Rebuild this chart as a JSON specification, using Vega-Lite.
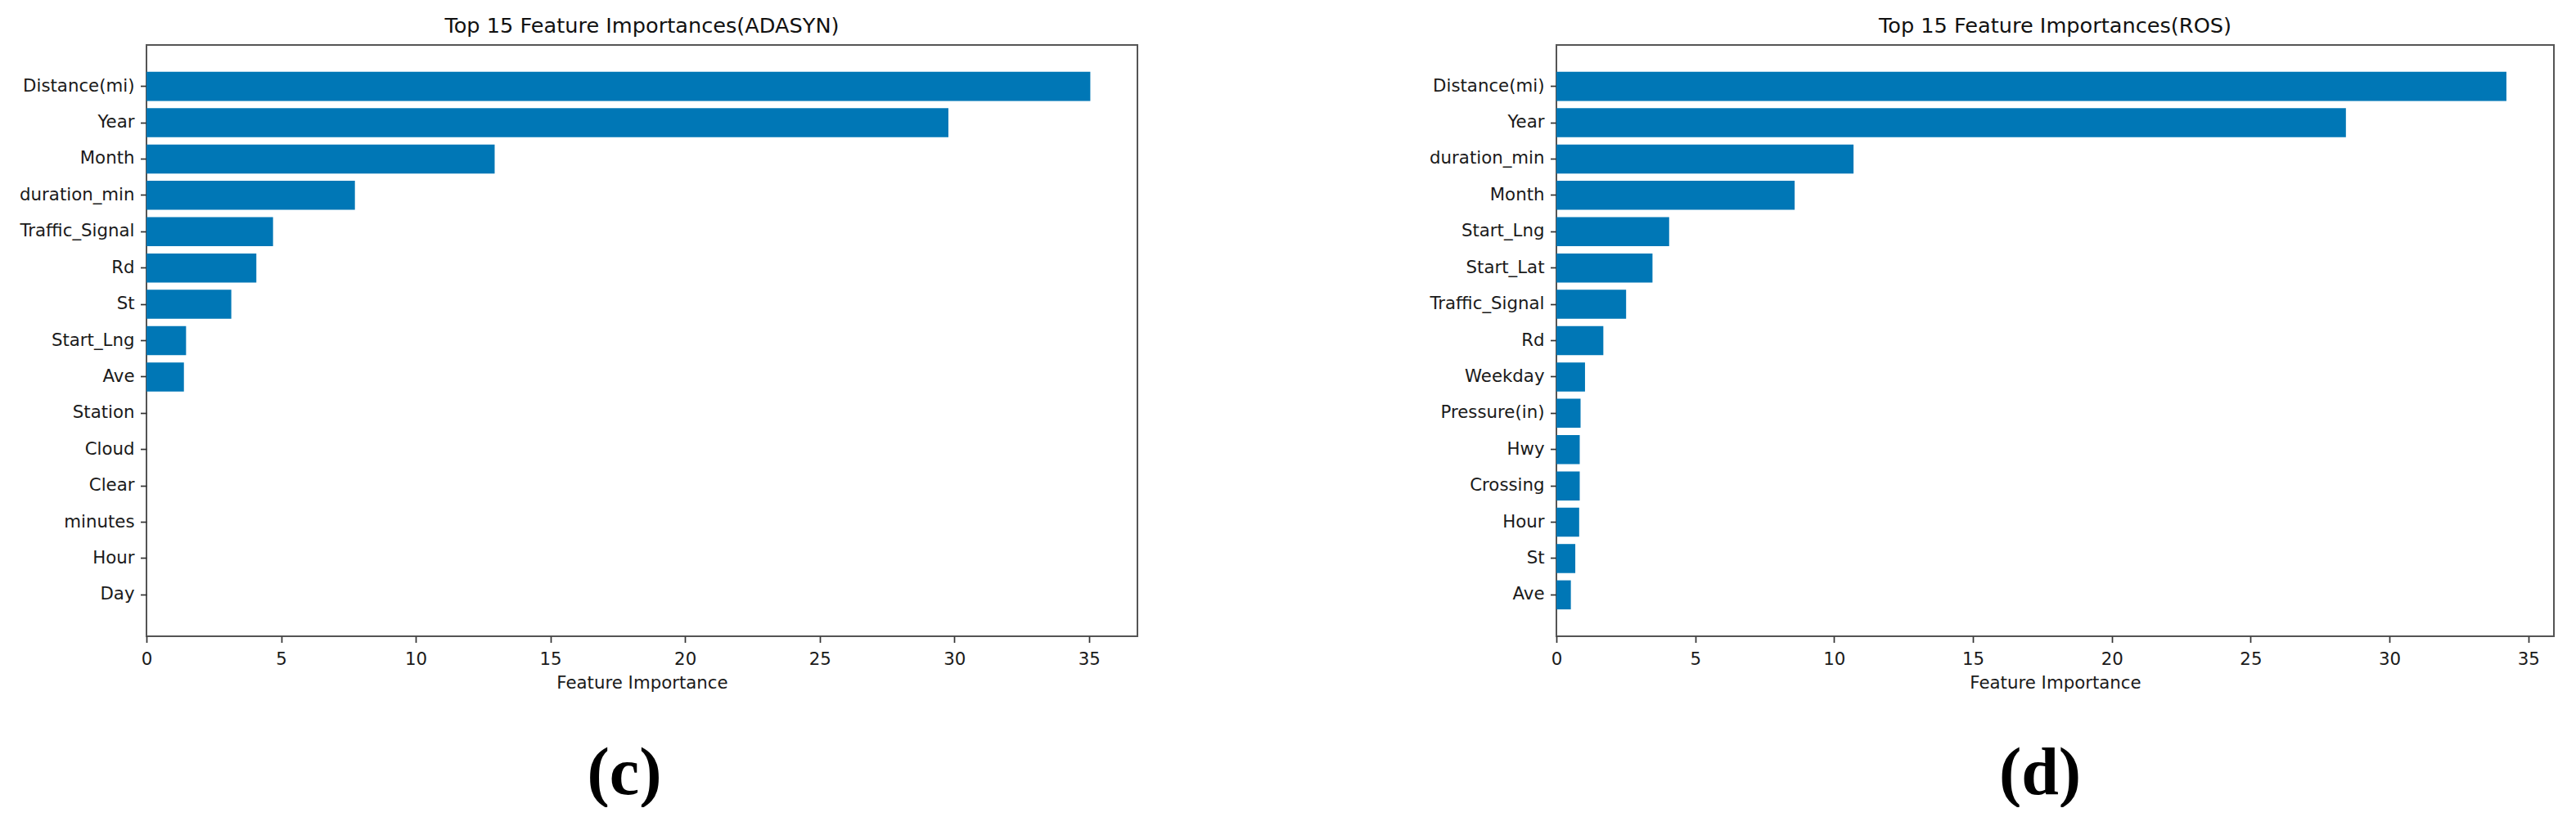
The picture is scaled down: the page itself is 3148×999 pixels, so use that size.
{
  "$schema": "https://vega.github.io/schema/vega-lite/v6.json",
  "background": "white",
  "padding": {"left": 22, "top": 19, "right": 0, "bottom": 0},
  "datasets": {
    "adasyn": [
      {"feature": "Distance(mi)", "importance": 35.05},
      {"feature": "Year", "importance": 29.78},
      {"feature": "Month", "importance": 12.93},
      {"feature": "duration_min", "importance": 7.74},
      {"feature": "Traffic_Signal", "importance": 4.70},
      {"feature": "Rd", "importance": 4.08},
      {"feature": "St", "importance": 3.15},
      {"feature": "Start_Lng", "importance": 1.47},
      {"feature": "Ave", "importance": 1.39},
      {"feature": "Station", "importance": 0},
      {"feature": "Cloud", "importance": 0},
      {"feature": "Clear", "importance": 0},
      {"feature": "minutes", "importance": 0},
      {"feature": "Hour", "importance": 0},
      {"feature": "Day", "importance": 0}
    ],
    "ros": [
      {"feature": "Distance(mi)", "importance": 34.21},
      {"feature": "Year", "importance": 28.43},
      {"feature": "duration_min", "importance": 10.70},
      {"feature": "Month", "importance": 8.58},
      {"feature": "Start_Lng", "importance": 4.06},
      {"feature": "Start_Lat", "importance": 3.46},
      {"feature": "Traffic_Signal", "importance": 2.51},
      {"feature": "Rd", "importance": 1.69},
      {"feature": "Weekday", "importance": 1.03},
      {"feature": "Pressure(in)", "importance": 0.87},
      {"feature": "Hwy", "importance": 0.84},
      {"feature": "Crossing", "importance": 0.84},
      {"feature": "Hour", "importance": 0.82},
      {"feature": "St", "importance": 0.68},
      {"feature": "Ave", "importance": 0.52}
    ],
    "labc": [{"label": "(c)"}],
    "labd": [{"label": "(d)"}]
  },
  "config": {
    "font": "DejaVu Sans",
    "view": {"stroke": null},
    "axis": {
      "domain": false,
      "grid": false,
      "tickColor": "#333",
      "tickSize": 7.5,
      "tickWidth": 1.7,
      "labelFont": "DejaVu Sans",
      "labelFontSize": 21.3,
      "labelColor": "#1a1a1a",
      "titleFont": "DejaVu Sans",
      "titleFontSize": 21.3,
      "titleFontWeight": "normal",
      "titleColor": "#1a1a1a"
    },
    "axisX": {"labelPadding": 9.5, "titlePadding": 8, "labelFlush": false},
    "axisY": {"labelPadding": 7.5},
    "title": {
      "font": "DejaVu Sans",
      "fontSize": 25.6,
      "fontWeight": "normal",
      "color": "#111",
      "anchor": "middle",
      "frame": "group",
      "offset": 9
    }
  },
  "spacing": 354,
  "hconcat": [
    {
      "spacing": 58,
      "vconcat": [
        {
          "data": {"name": "adasyn"},
          "width": 1211,
          "height": 723,
          "view": {"stroke": "#555", "strokeWidth": 2},
          "title": "Top 15 Feature Importances(ADASYN)",
          "mark": {"type": "bar", "color": "#0077b6"},
          "encoding": {
            "y": {
              "field": "feature",
              "type": "nominal",
              "sort": null,
              "scale": {"paddingInner": 0.2, "paddingOuter": 0.74},
              "axis": {"title": null}
            },
            "x": {
              "field": "importance",
              "type": "quantitative",
              "scale": {"domain": [0, 36.8], "nice": false},
              "axis": {"values": [0, 5, 10, 15, 20, 25, 30, 35], "title": "Feature Importance"}
            }
          }
        },
        {
          "data": {"name": "labc"},
          "width": 1168,
          "height": 70,
          "mark": {"type": "text", "font": "Liberation Serif", "fontWeight": "bold", "fontSize": 82, "baseline": "middle", "align": "center", "color": "black"},
          "encoding": {"text": {"field": "label", "type": "nominal"}}
        }
      ]
    },
    {
      "spacing": 58,
      "vconcat": [
        {
          "data": {"name": "ros"},
          "width": 1219,
          "height": 723,
          "view": {"stroke": "#555", "strokeWidth": 2},
          "title": "Top 15 Feature Importances(ROS)",
          "mark": {"type": "bar", "color": "#0077b6"},
          "encoding": {
            "y": {
              "field": "feature",
              "type": "nominal",
              "sort": null,
              "scale": {"paddingInner": 0.2, "paddingOuter": 0.74},
              "axis": {"title": null}
            },
            "x": {
              "field": "importance",
              "type": "quantitative",
              "scale": {"domain": [0, 35.92], "nice": false},
              "axis": {"values": [0, 5, 10, 15, 20, 25, 30, 35], "title": "Feature Importance"}
            }
          }
        },
        {
          "data": {"name": "labd"},
          "width": 1182,
          "height": 70,
          "mark": {"type": "text", "font": "Liberation Serif", "fontWeight": "bold", "fontSize": 82, "baseline": "middle", "align": "center", "color": "black"},
          "encoding": {"text": {"field": "label", "type": "nominal"}}
        }
      ]
    }
  ]
}
